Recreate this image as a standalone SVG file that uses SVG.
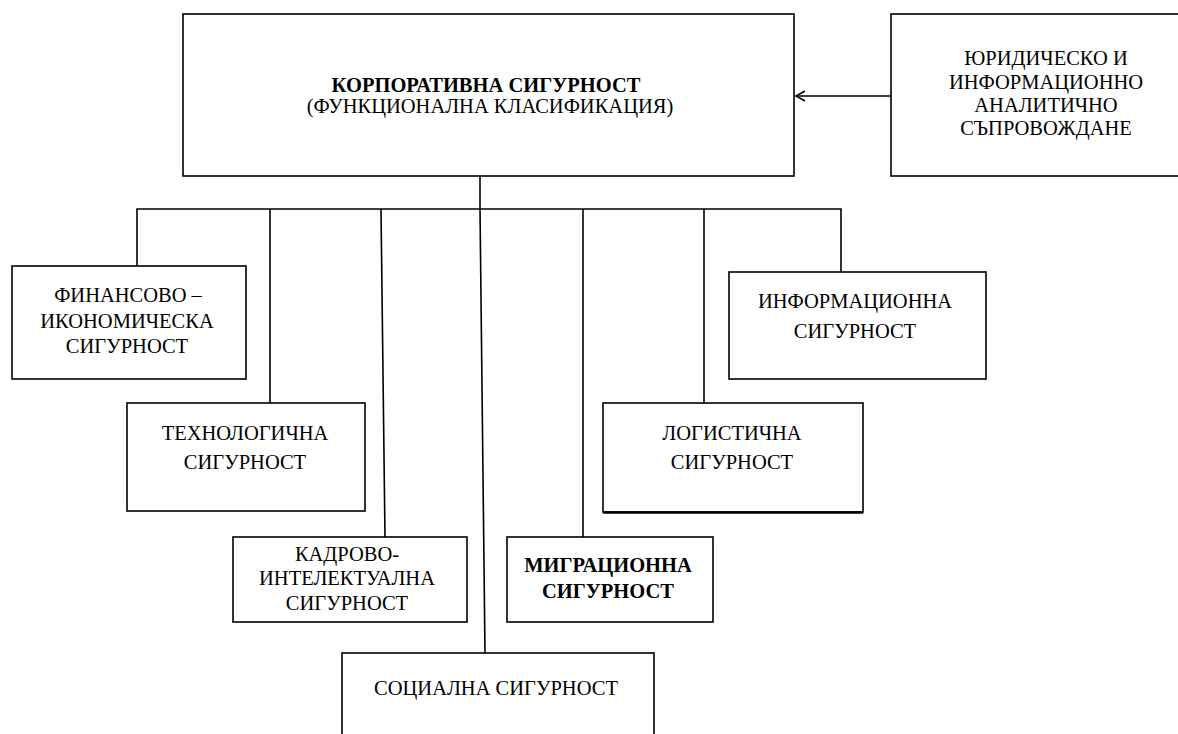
<svg xmlns="http://www.w3.org/2000/svg" width="1178" height="734" viewBox="0 0 1178 734">
<style>
.box{fill:#fff;stroke:#000;stroke-width:1.6}
.ln{fill:none;stroke:#000;stroke-width:1.6}
.t{font-family:'Liberation Serif','Times New Roman',serif;font-size:20.5px;fill:#000;text-anchor:middle}
.b{font-weight:bold}
</style>
<defs>
<marker id="ah" markerWidth="12" markerHeight="12" refX="10" refY="6" orient="auto" markerUnits="userSpaceOnUse">
<path d="M1,1 L10,6 L1,11" fill="none" stroke="#000" stroke-width="1.5"/>
</marker>
</defs>
<g id="connectors">
<line class="ln" x1="891" y1="96" x2="796" y2="96" marker-end="url(#ah)"/>
<line class="ln" x1="480" y1="176" x2="480" y2="209"/>
<polyline class="ln" points="137,266 137,209 841,209 841,272"/>
<line class="ln" x1="270" y1="209" x2="270" y2="403"/>
<line class="ln" x1="381" y1="209" x2="385" y2="537"/>
<line class="ln" x1="480" y1="209" x2="485" y2="653"/>
<line class="ln" x1="583" y1="209" x2="583" y2="537"/>
<line class="ln" x1="704" y1="209" x2="704" y2="403"/>
</g>
<g id="main">
<rect class="box" x="183" y="14" width="611" height="162"/>
<text class="t b" x="486" y="92">КОРПОРАТИВНА СИГУРНОСТ</text>
<text class="t" x="490" y="113">(ФУНКЦИОНАЛНА КЛАСИФИКАЦИЯ)</text>
</g>
<g id="legal">
<rect class="box" x="891" y="14" width="300" height="162"/>
<text class="t" x="1046" y="65">ЮРИДИЧЕСКО И</text>
<text class="t" x="1046" y="89">ИНФОРМАЦИОННО</text>
<text class="t" x="1046" y="112">АНАЛИТИЧНО</text>
<text class="t" x="1046" y="135">СЪПРОВОЖДАНЕ</text>
</g>
<g id="finance">
<rect class="box" x="12" y="266" width="234" height="113"/>
<text class="t" x="128" y="302">ФИНАНСОВО –</text>
<text class="t" x="127" y="328">ИКОНОМИЧЕСКА</text>
<text class="t" x="127" y="353">СИГУРНОСТ</text>
</g>
<g id="info">
<rect class="box" x="729" y="272" width="257" height="107"/>
<text class="t" x="855" y="308">ИНФОРМАЦИОННА</text>
<text class="t" x="855" y="338">СИГУРНОСТ</text>
</g>
<g id="tech">
<rect class="box" x="127" y="403" width="238" height="108"/>
<text class="t" x="245" y="440">ТЕХНОЛОГИЧНА</text>
<text class="t" x="245" y="469">СИГУРНОСТ</text>
</g>
<g id="logistics">
<rect class="box" x="603" y="403" width="260" height="109"/>
<line x1="603" y1="512.5" x2="863" y2="512.5" stroke="#000" stroke-width="2.6"/>
<text class="t" x="732" y="440">ЛОГИСТИЧНА</text>
<text class="t" x="732" y="469">СИГУРНОСТ</text>
</g>
<g id="kadrovo">
<rect class="box" x="233" y="537" width="234" height="85"/>
<text class="t" x="347" y="561">КАДРОВО-</text>
<text class="t" x="347" y="585">ИНТЕЛЕКТУАЛНА</text>
<text class="t" x="347" y="610">СИГУРНОСТ</text>
</g>
<g id="migration">
<rect class="box" x="507" y="537" width="206" height="85"/>
<text class="t b" x="608" y="572">МИГРАЦИОННА</text>
<text class="t b" x="608" y="598">СИГУРНОСТ</text>
</g>
<g id="social">
<rect class="box" x="342" y="653" width="312" height="100"/>
<text class="t" x="496" y="695">СОЦИАЛНА СИГУРНОСТ</text>
</g>
</svg>
